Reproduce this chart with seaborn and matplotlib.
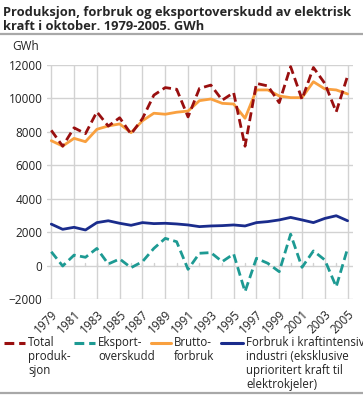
import matplotlib
matplotlib.use("Agg")
import matplotlib.pyplot as plt
from matplotlib.lines import Line2D
import seaborn as sns
import pandas as pd

years = list(range(1979, 2006))
total_prod = [8100, 7150, 8250, 7900, 9200, 8350, 8850, 7880, 8800, 10200, 10650, 10550,
              8900, 10600, 10800, 9900, 10350, 7150, 10900, 10750, 9750, 11900, 9950,
              11850, 10900, 9200, 11350]
eksport = [850, 0, 650, 520, 1050, 120, 420, -100, 260, 1050, 1650, 1450,
           -200, 760, 800, 260, 720, -1530, 460, 160, -340, 1900, -80,
           900, 360, -1240, 1050]
brutto = [7480, 7160, 7620, 7420, 8160, 8360, 8480, 7960, 8670, 9120, 9060, 9180,
          9250, 9870, 9970, 9710, 9670, 8820, 10510, 10510, 10150, 10050, 10050,
          11000, 10570, 10510, 10270]
kraftintensiv = [2500, 2190, 2310, 2150, 2590, 2700, 2550, 2430, 2590, 2530, 2550, 2510,
                 2450, 2350, 2390, 2410, 2450, 2390, 2590, 2650, 2750, 2900, 2750,
                 2590, 2840, 3000, 2700]

labels = ["Total\nproduk-\nsjon", "Eksport-\noverskudd", "Brutto-\nforbruk",
          "Forbruk i kraftintensiv\nindustri (eksklusive\nuprioritert kraft til\nelektrokjeler)"]
colors = ["#990f0f", "#1d9a93", "#f9a03f", "#1a2c8c"]

sns.set_style("white")
plt.rcParams["font.family"] = ["Open Sans", "DejaVu Sans"]

df = pd.DataFrame({"year": years, "total": total_prod, "eksport": eksport,
                   "brutto": brutto, "industri": kraftintensiv})

fig = plt.figure(figsize=(3.63, 3.96), dpi=100)
ax = fig.add_axes([0.1287, 0.2437, 0.9733 - 0.1287, 0.8359 - 0.2437])

lw = 2.0
dash = (0, (3.2, 1.6))
sns.lineplot(data=df, x="year", y="brutto", color=colors[2], linewidth=lw, ax=ax)
sns.lineplot(data=df, x="year", y="industri", color=colors[3], linewidth=lw, ax=ax)
sns.lineplot(data=df, x="year", y="eksport", color=colors[1], linewidth=lw, linestyle=dash, ax=ax)
sns.lineplot(data=df, x="year", y="total", color=colors[0], linewidth=lw, linestyle=dash, ax=ax)

ax.set_xlim(1978.6, 2005.5)
ax.set_ylim(-2000, 12000)
ax.set_yticks(range(-2000, 12001, 2000))
ax.set_xticks(range(1979, 2006, 2))
ax.set_xticklabels([str(y) for y in range(1979, 2006, 2)], rotation=45, ha="right",
                   rotation_mode="anchor")
ax.tick_params(axis="both", labelsize=8.5, colors="#222222", length=0, pad=3)
ax.tick_params(axis="x", pad=6)
ax.grid(True, color="#d2d2d2", linewidth=1)
ax.set_axisbelow(True)
for s in ax.spines.values():
    s.set_visible(False)
ax.set_xlabel("")
ax.set_ylabel("")
# small year ticks on the zero line
for y in years:
    ax.plot([y, y], [0, 150], color="#d2d2d2", linewidth=1, zorder=0)

fig.text(0.008, 0.985, "Produksjon, forbruk og eksportoverskudd av elektrisk\nkraft i oktober. 1979-2005. GWh",
         fontsize=9.3, fontweight="bold", va="top", ha="left", linespacing=1.15)
fig.add_artist(Line2D([0, 1], [1 - 33.5 / 396] * 2, color="#a8a8a8", linewidth=1.6))
fig.add_artist(Line2D([0, 1], [1 - 393 / 396] * 2, color="#a8a8a8", linewidth=1.6))
fig.text(12 / 363, 1 - 47 / 396, "GWh", fontsize=8.5, va="center", ha="left", color="#222222")

# legend
handle_x = [(4, 25), (74, 95), (151, 171), (221, 243)]
text_x = [28, 98, 174, 246]
ly = 1 - 342.7 / 396
styles = ["--", "--", "-", "-"]
for (x0, x1), tx, lab, c, st in zip(handle_x, text_x, labels, colors, styles):
    fig.add_artist(Line2D([x0 / 363, x1 / 363], [ly, ly], color=c, linewidth=2.2,
                          linestyle=(0, (3.2, 1.6)) if st == "--" else "-"))
    fig.text(tx / 363, ly + 7 / 396, lab, fontsize=8.3, va="top", ha="left", color="#222222",
             linespacing=1.1, transform=fig.transFigure)

fig.savefig("out.png", dpi=100)
